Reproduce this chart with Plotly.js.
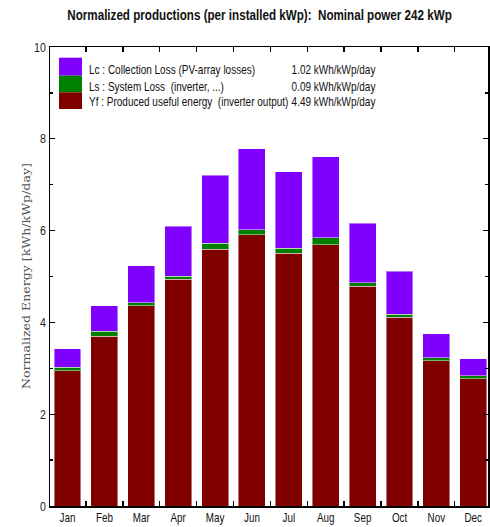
<!DOCTYPE html>
<html><head><meta charset="utf-8">
<script src="https://cdn.plot.ly/plotly-3.0.1.min.js"></script>
<style>html,body{margin:0;padding:0;background:#fff;}#chart{width:490px;height:527px;}</style>
</head><body><div id="chart"></div>
<script>
const months = ["Jan","Feb","Mar","Apr","May","Jun","Jul","Aug","Sep","Oct","Nov","Dec"];
const yf = [2.95,3.70,4.36,4.94,5.59,5.91,5.51,5.69,4.79,4.11,3.17,2.77];
const ls = [0.07,0.11,0.07,0.07,0.13,0.11,0.11,0.15,0.07,0.07,0.06,0.07];
const lc = [0.41,0.55,0.80,1.08,1.49,1.76,1.66,1.77,1.30,0.93,0.52,0.37];
const legendLabels = ["Lc : Collection Loss (PV-array losses)","Ls : System Loss  (inverter, ...)","Yf : Produced useful energy  (inverter output)"];
const legendValues = ["1.02 kWh/kWp/day","0.09 kWh/kWp/day","4.49 kWh/kWp/day"];
const yTitle = "Normalized Energy [kWh/kWp/day]";
const colors = ["#8000ff","#008000","#800000"];

const FONT = "'Liberation Sans', Arial, sans-serif";
const NARROW = 0.82; // emulate a narrow sans face

const mk = (y, c, name) => ({type:'bar', x:months, y:y, name:name,
  marker:{color:c, line:{color:'rgba(255,255,255,0.45)', width:1}}, hoverinfo:'skip'});
const data = [mk(yf, colors[2], 'Yf'), mk(ls, colors[1], 'Ls'), mk(lc, colors[0], 'Lc')];

const shapes = [];
const annotations = [];
const sw = [[0.9767,0.9375],[0.9375,0.9013],[0.9013,0.8649]];
const ty = [0.950,0.9135,0.881];
for (let i=0;i<3;i++){
  shapes.push({type:'rect', xref:'paper', yref:'paper', x0:0.0205, x1:0.073, y0:sw[i][1], y1:sw[i][0],
    fillcolor:colors[i], line:{width:0}});
  annotations.push({xref:'paper', yref:'paper', x:0.0845, y:ty[i], xanchor:'left', yanchor:'middle',
    text:legendLabels[i], showarrow:false, font:{family:FONT, size:12.2, color:'#111'}});
  annotations.push({xref:'paper', yref:'paper', x:0.749, y:ty[i], xanchor:'right', yanchor:'middle',
    text:legendValues[i], showarrow:false, font:{family:FONT, size:12.2, color:'#111'}});
}
annotations.push({xref:'paper', yref:'paper', x:-0.057, y:0.5, xanchor:'center', yanchor:'middle', textangle:-90,
  text:yTitle, showarrow:false, font:{family:"'DejaVu Serif', 'Liberation Serif', serif", size:10.5, color:'#555'}});

const layout = {
  width:490, height:527,
  margin:{l:50, r:2, t:47, b:21},
  paper_bgcolor:'#fff', plot_bgcolor:'#fff',
  barmode:'stack', bargap:0.27, showlegend:false,
  title:{text:'Normalized productions (per installed kWp):  Nominal power 242 kWp',
    font:{family:FONT, size:14.2, color:'#111', weight:'bold'}, x:0.5296, xanchor:'center', y:0.9715, yanchor:'middle', xref:'container', yref:'container'},
  xaxis:{type:'category', range:[-0.475,11.4], tickson:'boundaries', ticks:'inside', ticklen:5, tickcolor:'#000', tickwidth:1.3,
    showline:true, linecolor:'#000', linewidth:1.5, mirror:'ticks', showgrid:false, zeroline:false,
    tickfont:{family:FONT, size:12, color:'#111'}, fixedrange:true},
  yaxis:{range:[0,10], dtick:2, ticks:'inside', ticklen:5, tickcolor:'#000', tickwidth:1.3,
    minor:{dtick:1, ticks:'inside', ticklen:3, tickcolor:'#000', showgrid:false},
    showline:true, linecolor:'#000', linewidth:1.5, mirror:'ticks', showgrid:false, zeroline:false,
    tickfont:{family:FONT, size:13, color:'#222'}, ticklabelstandoff:0},
  shapes:shapes, annotations:annotations
};
Plotly.newPlot('chart', data, layout, {staticPlot:true, displayModeBar:false}).then(gd => {
  const anns = gd.layout.annotations;
  gd.querySelectorAll('svg text').forEach(t => {
    const bb = t.getBBox();
    if (!bb.width) return;
    let anchorMode = t.getAttribute('text-anchor') || 'start';
    const annG = t.closest('.annotation');
    if (annG) {
      const a = anns[+annG.getAttribute('data-index')];
      if (a.textangle === -90) {
        t.setAttribute('textLength', 226);
        t.setAttribute('lengthAdjust', 'spacingAndGlyphs');
        return;
      }
      anchorMode = a.xanchor === 'left' ? 'start' : a.xanchor === 'right' ? 'end' : 'middle';
    }
    let ax = anchorMode === 'start' ? bb.x : anchorMode === 'end' ? bb.x + bb.width : bb.x + bb.width / 2;
    const old = t.getAttribute('transform') || '';
    const tl = t.transform.baseVal.consolidate();
    if (tl) ax = tl.matrix.a * ax + tl.matrix.e;
    t.setAttribute('transform', `translate(${ax.toFixed(2)},0) scale(${NARROW},1) translate(${(-ax).toFixed(2)},0) ${old}`);
  });
});
</script></body></html>
